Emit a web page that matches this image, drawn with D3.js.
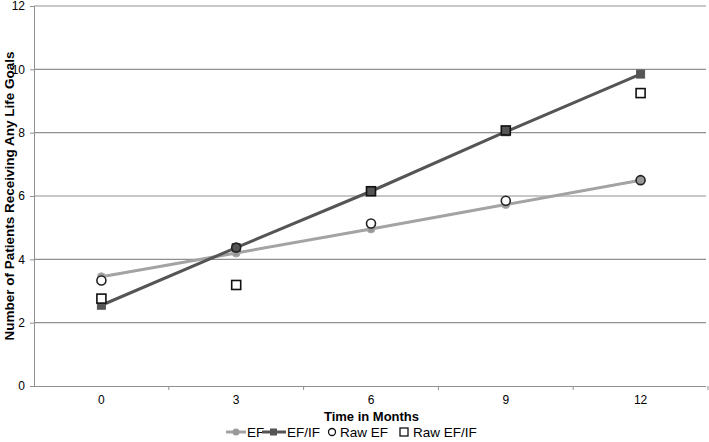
<!DOCTYPE html>
<html lang="en">
<head>
    <meta charset="UTF-8">
    <title>Life goals</title>
    <script type="text/javascript" src="https://cdn.jsdelivr.net/npm/d3@7"></script>
    <style>
        body { margin: 0; background: #fff; }
        text { font-family: "Liberation Sans", Arial, sans-serif; fill: #000; }
        .grid line { stroke: #8f8f8f; stroke-width: 1.2; }
        .axis path, .axis line { stroke: #8f8f8f; }
    </style>
</head>
<body>
<svg id="chart" width="709" height="442"></svg>
<script>
    var months = [0, 3, 6, 9, 12];
    var efFit = [3.45, 4.2, 4.96, 5.73, 6.5];
    var efifFit = [2.55, 4.37, 6.15, 8.03, 9.85];
    var rawEF = [3.33, 4.37, 5.13, 5.85, 6.5];
    var rawEFIF = [2.76, 3.19, 6.15, 8.07, 9.25];
    var yTicks = [0, 2, 4, 6, 8, 10, 12];

    var svg = d3.select("svg#chart"),
        margin = {top: 6, right: 0, bottom: 56, left: 34},
        width = +svg.attr("width") - margin.left - margin.right,
        height = +svg.attr("height") - margin.top - margin.bottom;

    var g = svg.append("g")
        .attr("transform", "translate(" + margin.left + "," + margin.top + ")");

    var x = d3.scaleBand().domain(months).range([0, width - 1]);
    var y = d3.scaleLinear().domain([0, 12]).range([height, 0]);

    function cx(i) { return x(months[i]) + x.bandwidth() / 2; }

    // gridlines
    g.append("g").attr("class", "grid")
        .selectAll("line")
        .data(yTicks.slice(1))
        .enter().append("line")
        .attr("x1", 0).attr("x2", width - 3)
        .attr("y1", function (d) { return y(d); })
        .attr("y2", function (d) { return y(d); });

    // y axis
    g.append("g").attr("class", "axis")
        .call(d3.axisLeft(y).tickValues(yTicks).tickSize(4).tickFormat(d3.format("d")))
        .call(function (a) { a.select(".domain").attr("d", "M-4,0.5H0.5V" + (height + 0.5)); })
        .selectAll("text").style("font-size", "12px").attr("dx", "-2");

    // x axis
    var xa = g.append("g").attr("class", "axis")
        .attr("transform", "translate(0," + height + ")");
    xa.append("line").attr("x1", 0).attr("x2", width - 3).attr("y1", 0.5).attr("y2", 0.5);
    xa.selectAll("line.tk")
        .data(months.slice(1).concat(["end"]))
        .enter().append("line").attr("class", "tk")
        .attr("x1", function (d, i) { return x.bandwidth() * (i + 1); })
        .attr("x2", function (d, i) { return x.bandwidth() * (i + 1); })
        .attr("y1", 0).attr("y2", 4);
    xa.selectAll("text")
        .data(months)
        .enter().append("text")
        .attr("x", function (d, i) { return cx(i); })
        .attr("y", 18)
        .attr("text-anchor", "middle")
        .style("font-size", "12px")
        .text(function (d) { return d; });

    // axis titles
    svg.append("text")
        .attr("x", margin.left + width / 2)
        .attr("y", 421)
        .attr("text-anchor", "middle")
        .style("font-size", "13px").style("font-weight", "bold")
        .text("Time in Months");

    svg.append("text")
        .attr("transform", "translate(14," + (margin.top + height / 2) + ") rotate(-90)")
        .attr("text-anchor", "middle")
        .style("font-size", "13.5px").style("font-weight", "bold")
        .text("Number of Patients Receiving Any Life Goals");

    var line = d3.line()
        .x(function (d, i) { return cx(i); })
        .y(function (d) { return y(d); });

    // fitted lines
    g.append("path").datum(efFit)
        .attr("fill", "none").attr("stroke", "#a3a3a3").attr("stroke-width", 3)
        .attr("d", line);
    g.selectAll("circle.ef").data(efFit).enter().append("circle")
        .attr("class", "ef")
        .attr("cx", function (d, i) { return cx(i); })
        .attr("cy", function (d) { return y(d); })
        .attr("r", 4).attr("fill", "#999").attr("stroke", "#aaa");

    g.append("path").datum(efifFit)
        .attr("fill", "none").attr("stroke", "#555").attr("stroke-width", 3)
        .attr("d", line);
    g.selectAll("rect.efif").data(efifFit).enter().append("rect")
        .attr("class", "efif")
        .attr("x", function (d, i) { return cx(i) - 4; })
        .attr("y", function (d) { return y(d) - 4; })
        .attr("width", 8).attr("height", 8)
        .attr("fill", "#555").attr("stroke", "#555");

    // raw points
    g.selectAll("circle.raw").data(rawEF).enter().append("circle")
        .attr("class", "raw")
        .attr("cx", function (d, i) { return cx(i); })
        .attr("cy", function (d) { return y(d); })
        .attr("r", 4.5)
        .attr("fill", function (d, i) { return i === 1 ? "#555" : i === 4 ? "#999" : "#fff"; })
        .attr("stroke", "#222").attr("stroke-width", 1.6);

    g.selectAll("rect.raw").data(rawEFIF).enter().append("rect")
        .attr("class", "raw")
        .attr("x", function (d, i) { return cx(i) - 4.5; })
        .attr("y", function (d) { return y(d) - 4.5; })
        .attr("width", 9).attr("height", 9)
        .attr("fill", function (d, i) { return (i === 2 || i === 3) ? "#555" : "#fff"; })
        .attr("stroke", "#111").attr("stroke-width", 1.6);

    // legend
    var leg = svg.append("g").attr("transform", "translate(0,432)");
    leg.append("line").attr("x1", 226).attr("x2", 246).attr("y1", 0).attr("y2", 0)
        .attr("stroke", "#a3a3a3").attr("stroke-width", 3);
    leg.append("circle").attr("cx", 236).attr("cy", 0).attr("r", 3.5).attr("fill", "#999");
    leg.append("text").attr("x", 247).attr("y", 5).style("font-size", "13.5px").text("EF");

    leg.append("line").attr("x1", 262).attr("x2", 286).attr("y1", 0).attr("y2", 0)
        .attr("stroke", "#555").attr("stroke-width", 3);
    leg.append("rect").attr("x", 270).attr("y", -3.5).attr("width", 7).attr("height", 7).attr("fill", "#555");
    leg.append("text").attr("x", 287).attr("y", 5).style("font-size", "13.5px").text("EF/IF");

    leg.append("circle").attr("cx", 332).attr("cy", 0).attr("r", 3.5)
        .attr("fill", "#fff").attr("stroke", "#111").attr("stroke-width", 1.3);
    leg.append("text").attr("x", 340).attr("y", 5).style("font-size", "13.5px").text("Raw EF");

    leg.append("rect").attr("x", 400).attr("y", -4).attr("width", 8).attr("height", 8)
        .attr("fill", "#fff").attr("stroke", "#111").attr("stroke-width", 1.3);
    leg.append("text").attr("x", 413).attr("y", 5).style("font-size", "13.5px").text("Raw EF/IF");
</script>
</body>
</html>
